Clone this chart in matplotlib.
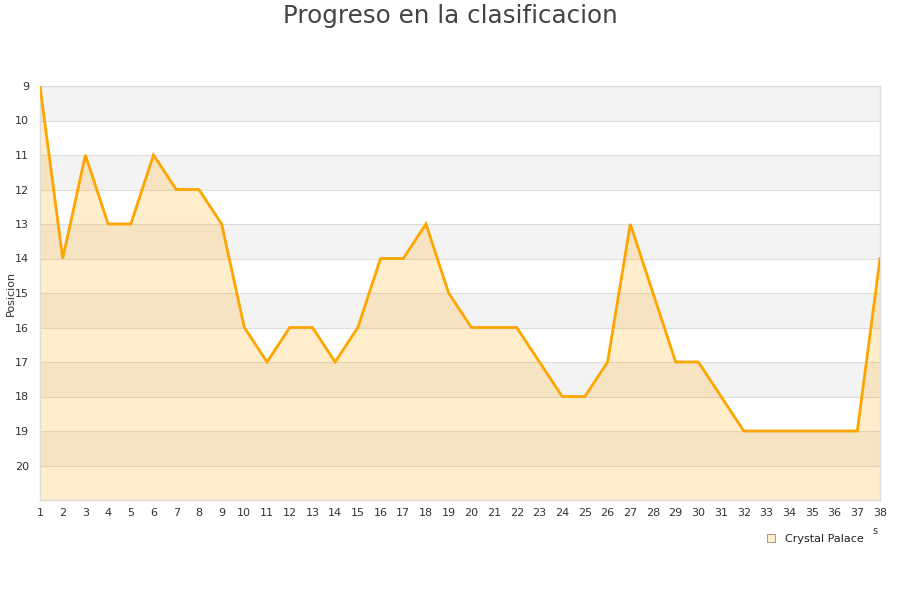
import matplotlib
matplotlib.use("Agg")
import matplotlib.pyplot as plt
from matplotlib.lines import Line2D

rounds = list(range(1, 39))
positions = [9, 14, 11, 13, 13, 11, 12, 12, 13, 16, 17, 16, 16, 17, 16, 14, 14, 13, 15, 16,
             16, 16, 17, 18, 18, 17, 13, 15, 17, 17, 18, 19, 19, 19, 19, 19, 19, 14]
team = "Crystal Palace"
title = "Progreso en la clasificacion"
ylabel = "Posicion"
yticks = list(range(9, 21))

fig = plt.figure(figsize=(9, 6), dpi=100)
ax = fig.add_axes([40/900, 100/600, 840/900, 414/600])

ax.set_xlim(1, 38)
ax.set_ylim(21, 9)

for y0 in range(9, 21, 2):
    ax.axhspan(y0, y0 + 1, color="#F3F3F3", zorder=0, lw=0)
for y in yticks:
    ax.axhline(y, color="#DDDDDD", lw=0.8, zorder=1)

ax.fill_between(rounds, positions, 21, color="#FFA500", alpha=0.2, lw=0, zorder=2)
ax.plot(rounds, positions, color="#FFA500", lw=2.0, zorder=3, solid_joinstyle="miter")

ax.set_xticks(rounds)
ax.set_yticks(yticks)
ax.tick_params(length=0, labelsize=8, colors="#333333", pad=6)
ax.tick_params(axis="y", pad=8)
for s in ax.spines.values():
    s.set_color("#DDDDDD")
    s.set_linewidth(1)

ax.set_ylabel(ylabel, fontsize=8, color="#333333")
ax.yaxis.set_label_coords(-24/840, 0.5)
fig.text(0.5, 1 - 16/600, title, ha="center", va="center", fontsize=17.7, color="#444444")

handle = Line2D([], [], marker="s", linestyle="none", markersize=6,
                markerfacecolor="#FFEDCC", markeredgecolor="#9A8A70", markeredgewidth=0.6)
leg = fig.legend([handle], [team], loc="center", bbox_to_anchor=(812/900, 1 - 539/600),
                 frameon=False, fontsize=8, handletextpad=0.3)
for t in leg.get_texts():
    t.set_color("#222222")
fig.text(875/900, 1 - 531/600, "s", fontsize=7, color="#333333", ha="center", va="center")

fig.savefig("out.png", dpi=100)
